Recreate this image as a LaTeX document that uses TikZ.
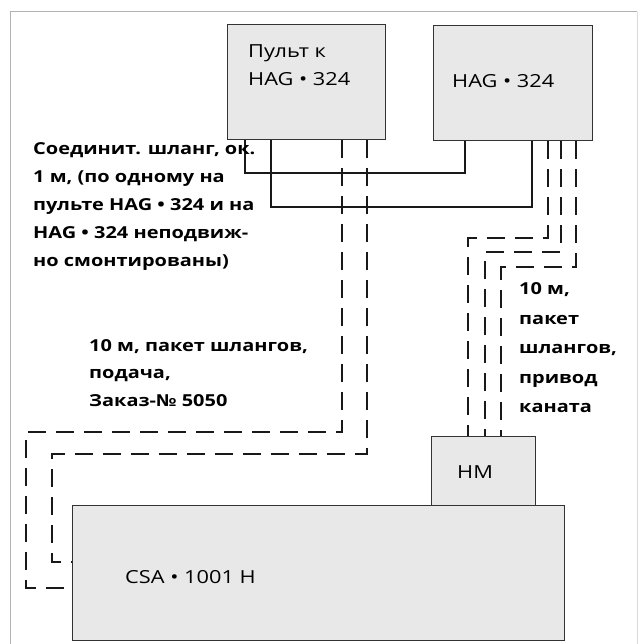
\documentclass[tikz,border=0pt]{standalone}
\usepackage{fontspec}
\setmainfont{Open Sans}[FakeStretch=1.21]
\begin{document}
\begin{tikzpicture}[x=1pt,y=-1pt,
  box/.style={draw=black!80, line width=1.1pt, fill=black!9, inner sep=0pt, anchor=north west},
  boxtext/.style={inner sep=0pt, font=\fontsize{18}{28}\selectfont},
  lbl/.style={inner sep=0pt, align=left, anchor=north west, font=\bfseries\fontsize{16.5}{28}\selectfont},
  sline/.style={line width=1.2pt, black!90},
  dline/.style={line width=1.9pt, black!90, dash pattern=on 18pt off 10pt},
  frame/.style={line width=1pt, black!30}]
\useasboundingbox (0,0) rectangle (640,644);
% frame
\draw[frame] (10,644) -- (10,12) -- (637,12);
\draw[frame, black!15] (637,12) -- (637,644);
% boxes
\node[box, minimum width=158pt, minimum height=115pt] (pult) at (227,24) {};
\node[box, minimum width=159pt, minimum height=115pt] (hag) at (433,25) {};
\node[box, minimum width=104pt, minimum height=70pt] (hm) at (431,436) {};
\node[box, minimum width=492pt, minimum height=135pt] (csa) at (72,505) {};
% box texts
\node[boxtext, align=left, anchor=north west] (tpult) at (248,38) {\strut Пульт к\\HAG • 324};
\node[boxtext, anchor=base west] (thag) at (452,87.5) {HAG • 324};
\node[boxtext, anchor=base west] (thm) at (457,478.5) {HM};
\node[boxtext, anchor=base west] (tcsa) at (125,583.5) {CSA • 1001 H};
% helper coordinates
\coordinate (xa) at (245,0);
\coordinate (xb) at (271,0);
\coordinate (xc) at (465,0);
\coordinate (xd) at (532,0);
\coordinate (xe) at (342,0);
\coordinate (xf) at (367,0);
\coordinate (xg) at (548,0);
\coordinate (xh) at (561,0);
\coordinate (xi) at (576,0);
\coordinate (xj) at (468,0);
\coordinate (xk) at (485,0);
\coordinate (xl) at (501,0);
\coordinate (c1) at (72,588);
\coordinate (c2) at (72,562);
% solid hoses
\draw[sline] (pult.south -| xa) -- (245,173) -- (465,173) -- (hag.south -| xc);
\draw[sline] (pult.south -| xb) -- (271,207) -- (532,207) -- (hag.south -| xd);
% dashed feed hoses
\draw[dline] (pult.south -| xe) -- (342,432) -- (26,432) -- (26,588) -- (c1);
\draw[dline] (pult.south -| xf) -- (367,454) -- (52,454) -- (52,562) -- (c2);
% dashed rope drive hoses
\draw[dline] (hag.south -| xg) -- (548,238) -- (468,238) -- (hm.north -| xj);
\draw[dline] (hag.south -| xh) -- (561,252) -- (485,252) -- (hm.north -| xk);
\draw[dline] (hag.south -| xi) -- (576,267) -- (501,267) -- (hm.north -| xl);
% labels
\node[lbl] (l1) at (33,135) {\strut Соединит. шланг, ок.\\1 м, (по одному на\\пульте HAG • 324 и на\\HAG • 324 неподвиж-\\но смонтированы)};
\node[lbl, font=\bfseries\fontsize{16.5}{27.5}\selectfont] (l2) at (89,332) {\strut 10 м, пакет шлангов,\\подача,\\Заказ-№ 5050};
\node[lbl, font=\bfseries\fontsize{16.5}{29.5}\selectfont] (l3) at (519,274) {\strut 10 м,\\пакет\\шлангов,\\привод\\каната};
\end{tikzpicture}
\end{document}
